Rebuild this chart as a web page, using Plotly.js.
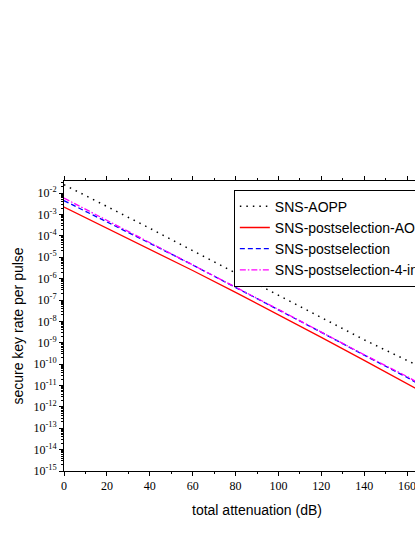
<!DOCTYPE html>
<html>
<head>
<meta charset="utf-8">
<script src="https://cdn.plot.ly/plotly-3.0.1.min.js"></script>
<style>
  html, body { margin: 0; padding: 0; overflow: hidden; background: #fff; }
  #chart { width: 480px; height: 537px; }
</style>
</head>
<body>
<div id="chart"></div>
<script>
// attenuation in dB
let attenuation = [0, 20, 40, 60, 80, 100, 120, 140, 160, 170];

let sns_aopp = [2.5e-2, 2.45e-3, 2.29e-4, 2.04e-5, 1.82e-6, 1.62e-7, 1.45e-8, 1.38e-9, 1.48e-10, 5.0e-11];
let sns_post_aopp = [2.24e-3, 2.34e-4, 2.40e-5, 2.40e-6, 2.29e-7, 2.09e-8, 1.78e-9, 1.51e-10, 1.26e-11, 3.5e-12];
let sns_post = [4.47e-3, 4.68e-4, 4.57e-5, 4.37e-6, 3.98e-7, 3.55e-8, 3.09e-9, 2.63e-10, 2.40e-11, 6.3e-12];
let sns_post_4 = [5.9e-3, 5.4e-4, 4.9e-5, 4.47e-6, 4.07e-7, 3.63e-8, 3.16e-9, 2.75e-10, 2.63e-11, 7.1e-12];

let series_names = ["SNS-AOPP", "SNS-postselection-AOPP", "SNS-postselection", "SNS-postselection-4-intensity"];

let x_ticks = [0, 20, 40, 60, 80, 100, 120, 140, 160, 180];
let y_tickvals = [1e-15, 1e-14, 1e-13, 1e-12, 1e-11, 1e-10, 1e-9, 1e-8, 1e-7, 1e-6, 1e-5, 1e-4, 1e-3, 1e-2];
let y_ticktext = ["10<sup>-15</sup>", "10<sup>-14</sup>", "10<sup>-13</sup>", "10<sup>-12</sup>", "10<sup>-11</sup>",
                  "10<sup>-10</sup>", "10<sup>-9</sup>", "10<sup>-8</sup>", "10<sup>-7</sup>", "10<sup>-6</sup>",
                  "10<sup>-5</sup>", "10<sup>-4</sup>", "10<sup>-3</sup>", "10<sup>-2</sup>"];

let traces = [
    { x: attenuation, y: sns_aopp, name: series_names[0], mode: 'lines',
      line: { color: 'black', width: 1.5, dash: '1.5px,5px' } },
    { x: attenuation, y: sns_post_aopp, name: series_names[1], mode: 'lines',
      line: { color: '#ff0000', width: 1.3 } },
    { x: attenuation, y: sns_post, name: series_names[2], mode: 'lines',
      line: { color: '#0000ff', width: 1.3, dash: '5px,3px' } },
    { x: attenuation, y: sns_post_4, name: series_names[3], mode: 'lines',
      line: { color: '#ff00ff', width: 1.3, dash: '6px,2px,1.5px,2px' } }
];

let layout = {
    width: 480,
    height: 537,
    margin: { l: 64, r: 30, t: 181, b: 66 },
    paper_bgcolor: 'white',
    plot_bgcolor: 'white',
    showlegend: true,
    legend: {
        x: 0.44, y: 0.97, xanchor: 'left', yanchor: 'top',
        bordercolor: 'black', borderwidth: 1, bgcolor: 'white',
        font: { family: 'Liberation Sans, Arial, sans-serif', size: 14, color: 'black' },
        tracegroupgap: 0
    },
    xaxis: {
        range: [0, 180],
        tickmode: 'array',
        tickvals: x_ticks,
        ticktext: x_ticks.map(String),
        ticks: 'outside', ticklen: 4, tickwidth: 1, tickcolor: 'black',
        minor: { dtick: 10, ticks: 'outside', ticklen: 2, tickcolor: 'black' },
        showline: true, linecolor: 'black', linewidth: 1, mirror: 'allticks',
        showgrid: false, zeroline: false,
        tickfont: { family: 'Liberation Serif, Times New Roman, serif', size: 12, color: 'black' },
        title: { text: 'total attenuation (dB)', standoff: 12,
                 font: { family: 'Liberation Sans, Arial, sans-serif', size: 14, color: 'black' } }
    },
    yaxis: {
        type: 'log',
        range: [-15, -1.43],
        tickmode: 'array',
        tickvals: y_tickvals,
        ticktext: y_ticktext,
        ticks: 'outside', ticklen: 4, tickwidth: 1, tickcolor: 'black',
        minor: { dtick: 'D1', ticks: 'outside', ticklen: 2, tickcolor: 'black' },
        showline: true, linecolor: 'black', linewidth: 1, mirror: 'allticks',
        showgrid: false, zeroline: false,
        tickfont: { family: 'Liberation Serif, Times New Roman, serif', size: 12, color: 'black' },
        title: { text: 'secure key rate per pulse', standoff: 6,
                 font: { family: 'Liberation Sans, Arial, sans-serif', size: 14, color: 'black' } }
    }
};

Plotly.newPlot('chart', traces, layout, { staticPlot: true, displayModeBar: false });
</script>
</body>
</html>
